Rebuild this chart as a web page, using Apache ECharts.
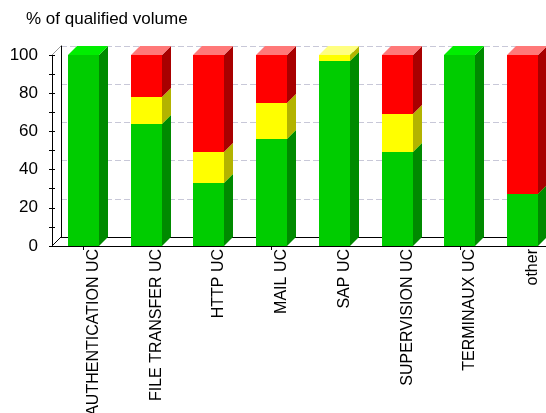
<!DOCTYPE html>
<html>
<head>
<meta charset="utf-8">
<script src="https://cdn.jsdelivr.net/npm/echarts@6/dist/echarts.min.js"></script>
<style>
  html, body { margin: 0; padding: 0; background: #fff; }
  #chart { width: 546px; height: 413px; }
</style>
</head>
<body>
<div id="chart"></div>
<script>
// Share of qualified volume per use case (percent, stacked to 100)
const categories = ['AUTHENTICATION UC', 'FILE TRANSFER UC', 'HTTP UC', 'MAIL UC',
                    'SAP UC', 'SUPERVISION UC', 'TERMINAUX UC', 'other'];
const greenShare  = [100, 64, 33, 56, 97, 49, 100, 27];
const yellowShare = [0, 14, 16, 19, 3, 20, 0, 0];
const redShare    = [0, 22, 51, 25, 0, 31, 0, 73];
const yTickLabels = [0, 20, 40, 60, 80, 100];

const FONT = 'Arial, "Liberation Sans", sans-serif';
const DEPTH = 9; // oblique depth of the pseudo-3D boxes, px

// front / side / top shades for each stack level
const palette = [
  { front: '#00cc00', side: '#008a00', top: '#00ee00' },
  { front: '#ffff00', side: '#b3b300', top: '#ffff80' },
  { front: '#ff0000', side: '#a80000', top: '#ff7878' }
];

const chart = echarts.init(document.getElementById('chart'), null, { renderer: 'canvas' });

function renderBox(params, api) {
  const idx = api.value(0);
  const parts = [api.value(1), api.value(2), api.value(3)];
  const band = api.size([1, 0])[0];
  const w = Math.round(band * 0.49);
  const cx = api.coord([idx, 0])[0];
  const x0 = Math.round(cx - w / 2);
  const x1 = x0 + w;
  const d = DEPTH;
  const children = [];
  let base = 0;
  parts.forEach(function (v, k) {
    if (!(v > 0)) return;
    const yb = Math.round(api.coord([idx, base])[1]);
    const yt = Math.round(api.coord([idx, base + v])[1]);
    base += v;
    const c = palette[k];
    children.push({
      type: 'rect',
      shape: { x: x0, y: yt, width: w, height: yb - yt },
      style: { fill: c.front }
    });
    children.push({
      type: 'polygon',
      shape: { points: [[x1, yt], [x1 + d, yt - d], [x1 + d, yb - d], [x1, yb]] },
      style: { fill: c.side }
    });
    children.push({
      type: 'polygon',
      shape: { points: [[x0, yt], [x0 + d, yt - d], [x1 + d, yt - d], [x1, yt]] },
      style: { fill: c.top }
    });
  });
  return { type: 'group', children: children };
}

function renderFrame(params, api) {
  const cs = params.coordSys;
  const yTop = api.coord([0, 100])[1];
  const yBot = api.coord([0, 0])[1];
  const d = DEPTH;
  return {
    type: 'group',
    children: [
      { type: 'line', shape: { x1: cs.x, y1: yBot, x2: cs.x + d, y2: yBot - d },
        style: { stroke: '#000', lineWidth: 1 } },
      { type: 'line', shape: { x1: cs.x, y1: yTop, x2: cs.x + d, y2: yTop - d },
        style: { stroke: '#999', lineWidth: 1 } }
    ]
  };
}

const valueAxisBase = { type: 'value', min: 0, max: 100 };

chart.setOption({
  animation: false,
  backgroundColor: '#fff',
  title: {
    text: '% of qualified volume',
    left: 21, top: 6,
    textStyle: { fontFamily: FONT, fontSize: 17, fontWeight: 'normal', color: '#000' }
  },
  grid: [
    { left: 52, right: -8, top: 55, bottom: 167, outerBoundsMode: 'none' },   // front plane
    { left: 61, right: -17, top: 46, bottom: 176, outerBoundsMode: 'none' },  // back wall
    { left: 62, right: -18, top: 55, bottom: 167, outerBoundsMode: 'none' }   // category label row
  ],
  xAxis: [
    {
      gridIndex: 0, type: 'category', data: categories,
      axisLine: { show: true, lineStyle: { color: '#000', width: 1 } },
      axisTick: { show: true, alignWithLabel: true, length: 4, lineStyle: { color: '#000' } },
      axisLabel: { show: false },
      splitLine: { show: false }
    },
    {
      gridIndex: 1, type: 'category', data: categories,
      axisLine: { show: true, lineStyle: { color: '#000', width: 1 } },
      axisTick: { show: false }, axisLabel: { show: false }, splitLine: { show: false }
    },
    {
      gridIndex: 2, type: 'category', data: categories,
      axisLine: { show: false }, axisTick: { show: false }, splitLine: { show: false },
      axisLabel: {
        show: true, interval: 0, rotate: 90, margin: 3, overflow: 'none',
        hideOverlap: false,
        fontFamily: FONT, fontSize: 16, color: '#000'
      }
    }
  ],
  yAxis: [
    Object.assign({}, valueAxisBase, {
      gridIndex: 0, position: 'left', interval: 10,
      axisLine: { show: true, lineStyle: { color: '#000', width: 1 } },
      axisTick: { show: true, inside: false, length: 3, lineStyle: { color: '#000' } },
      axisLabel: {
        show: true, margin: 14, fontFamily: FONT, fontSize: 17, color: '#000',
        formatter: function (v) { return yTickLabels.indexOf(v) >= 0 ? String(v) : ''; }
      },
      splitLine: { show: false }
    }),
    Object.assign({}, valueAxisBase, {
      gridIndex: 0, position: 'left', interval: 10,
      axisLine: { show: false },
      axisTick: { show: true, inside: true, length: 3, lineStyle: { color: '#000' } },
      axisLabel: { show: false },
      splitLine: { show: false }
    }),
    Object.assign({}, valueAxisBase, {
      gridIndex: 1, position: 'left', interval: 20,
      axisLine: { show: true, lineStyle: { color: '#000', width: 1 } },
      axisTick: { show: false }, axisLabel: { show: false },
      splitLine: { show: true, lineStyle: { color: '#c8c8d8', type: [6, 3], width: 1 } }
    }),
    Object.assign({}, valueAxisBase, { gridIndex: 2, show: false })
  ],
  series: [
    {
      type: 'custom', name: 'frame', xAxisIndex: 0, yAxisIndex: 0,
      silent: true, z: 1,
      renderItem: renderFrame,
      data: [[0, 0]]
    },
    {
      type: 'custom', name: 'volume', xAxisIndex: 0, yAxisIndex: 0,
      z: 3,
      renderItem: renderBox,
      encode: { x: 0, y: 1 },
      data: categories.map(function (c, i) {
        return [i, greenShare[i], yellowShare[i], redShare[i]];
      })
    }
  ]
});
</script>
</body>
</html>
